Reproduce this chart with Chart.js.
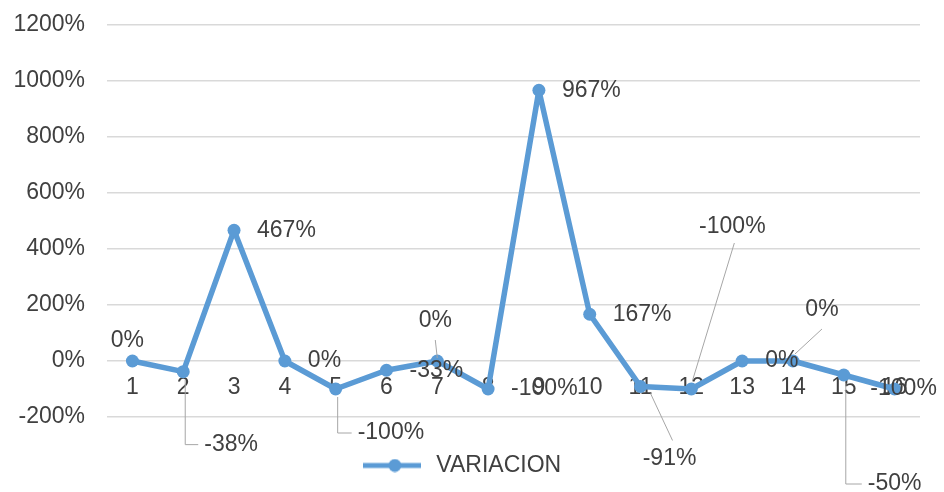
<!DOCTYPE html>
<html>
<head>
<meta charset="utf-8">
<script src="https://cdn.jsdelivr.net/npm/chart.js@4.4.1/dist/chart.umd.min.js"></script>
<style>
  html, body { margin: 0; padding: 0; background: #fff; }
  #wrap { width: 944px; height: 492px; position: relative; }
</style>
</head>
<body>
<div id="wrap"><canvas id="myChart"></canvas></div>
<script>
const categories = ['1', '2', '3', '4', '5', '6', '7', '8', '9', '10', '11', '12', '13', '14', '15', '16'];
const variacion = [0, -38, 467, 0, -100, -33, 0, -100, 967, 167, -91, -100, 0, 0, -50, -100];
const yTicks = [-200, 0, 200, 400, 600, 800, 1000, 1200];

const blue = '#5b9bd5';
const textGrey = '#404040';
const fontFamily = '"Liberation Sans", Arial, sans-serif';

// where each value label sits relative to its point
// side: label starts to the right of the point
// at: label centre offset; elbow: leader goes down then across; line: straight leader
const labelSpots = [
  { at: [-5, -20] },
  { elbow: [73, 21] },
  { side: true },
  { side: true },
  { elbow: [44, 22] },
  { side: true },
  { at: [-2, -40], line: [-2, -21, 0, -3] },
  { side: true },
  { side: true },
  { side: true },
  { at: [29, 72], line: [10, 7, 32, 54] },
  { at: [41, -162], line: [1, -8, 43, -146] },
  { side: true },
  { at: [29, -51], line: [29, -32, 2, -7] },
  { elbow: [109, 24] },
  { at: [9, 0] }
];

// legend marker: a short line with a dot in the middle
const marker = document.createElement('canvas');
marker.width = 58;
marker.height = 14;
(function () {
  const m = marker.getContext('2d');
  m.strokeStyle = blue;
  m.lineWidth = 5;
  m.beginPath();
  m.moveTo(0, 7);
  m.lineTo(58, 7);
  m.stroke();
  m.fillStyle = blue;
  m.beginPath();
  m.arc(32, 7, 6.5, 0, Math.PI * 2);
  m.fill();
})();

const valueLabels = {
  id: 'valueLabels',
  afterDatasetsDraw(chart) {
    const ctx = chart.ctx;
    const pts = chart.getDatasetMeta(0).data;
    ctx.save();
    ctx.font = '23px ' + fontFamily;
    ctx.fillStyle = textGrey;
    ctx.strokeStyle = '#a6a6a6';
    ctx.lineWidth = 1;
    ctx.textBaseline = 'middle';
    pts.forEach((p, i) => {
      const spot = labelSpots[i];
      const text = variacion[i] + '%';
      if (spot.side) {
        ctx.textAlign = 'left';
        ctx.fillText(text, p.x + 23, p.y);
      } else if (spot.elbow) {
        const ly = p.y + spot.elbow[0];
        const lx = p.x + spot.elbow[1];
        ctx.beginPath();
        ctx.moveTo(p.x + 2, p.y + 8);
        ctx.lineTo(p.x + 2, ly);
        ctx.lineTo(lx - 6, ly);
        ctx.stroke();
        ctx.textAlign = 'left';
        ctx.fillText(text, lx, ly);
      } else {
        if (spot.line) {
          const l = spot.line;
          ctx.beginPath();
          ctx.moveTo(p.x + l[0], p.y + l[1]);
          ctx.lineTo(p.x + l[2], p.y + l[3]);
          ctx.stroke();
        }
        ctx.textAlign = 'center';
        ctx.fillText(text, p.x + spot.at[0], p.y + spot.at[1]);
      }
    });
    ctx.restore();
  }
};

new Chart(document.getElementById('myChart'), {
  type: 'line',
  data: {
    labels: categories,
    datasets: [{
      label: 'VARIACION',
      data: variacion,
      borderColor: blue,
      backgroundColor: blue,
      borderWidth: 5.5,
      borderJoinStyle: 'round',
      borderCapStyle: 'round',
      pointRadius: 6.5,
      pointBorderWidth: 0,
      pointStyle: 'circle',
      tension: 0
    }]
  },
  options: {
    responsive: true,
    maintainAspectRatio: false,
    animation: false,
    layout: { padding: { top: 25, right: 24, bottom: 5, left: 0 } },
    plugins: {
      tooltip: { enabled: false },
      legend: {
        position: 'bottom',
        labels: {
          usePointStyle: true,
          pointStyleWidth: 66,
          padding: 10,
          color: textGrey,
          font: { size: 23, family: fontFamily },
          generateLabels: (chart) => [{
            text: chart.data.datasets[0].label,
            pointStyle: marker,
            fontColor: textGrey,
            datasetIndex: 0
          }]
        }
      }
    },
    scales: {
      x: {
        type: 'category',
        position: { y: 0 },
        offset: true,
        grid: { display: false },
        border: { display: false },
        ticks: {
          color: textGrey,
          font: { size: 23, family: fontFamily },
          padding: 5,
          autoSkip: false,
          maxRotation: 0
        }
      },
      gap: {
        type: 'category',
        position: 'bottom',
        grid: { display: false },
        border: { display: false },
        ticks: { display: false },
        afterFit(scale) { scale.height = 27; }
      },
      y: {
        min: yTicks[0],
        max: yTicks[yTicks.length - 1],
        afterBuildTicks(scale) { scale.ticks = yTicks.map(v => ({ value: v })); },
        grid: { color: '#d9d9d9', lineWidth: 1.5, drawTicks: false },
        border: { display: false },
        ticks: {
          color: textGrey,
          font: { size: 23, family: fontFamily },
          padding: 22,
          callback: v => v + '%'
        },
        afterFit(scale) {
          scale.width = 107;
          scale.paddingTop = 0;
          scale.paddingBottom = 0;
        }
      }
    }
  },
  plugins: [valueLabels]
});
</script>
</body>
</html>
